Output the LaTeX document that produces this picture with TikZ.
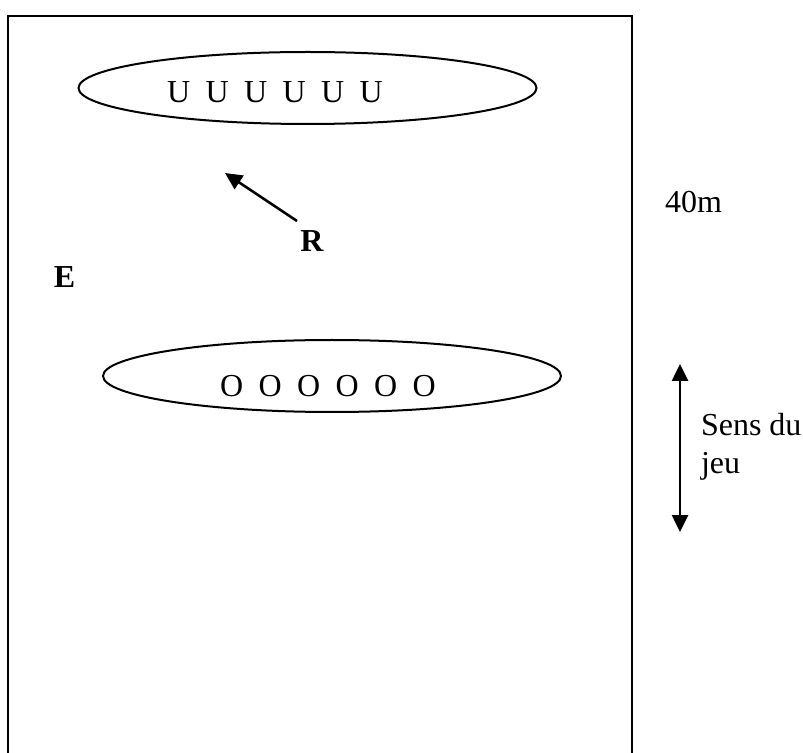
\documentclass[tikz,border=0pt]{standalone}
\usepackage{fontspec}
\setmainfont{Liberation Serif}
\usetikzlibrary{arrows.meta,shapes.geometric}

\newcommand{\pgap}{\hspace{7.7pt}}

\begin{document}
\begin{tikzpicture}[x=0.5pt,y=-0.5pt,line width=1pt,
		>={Triangle[length=8.5pt,width=8pt]},
		every node/.style={inner sep=0pt,font=\fontsize{16}{19.2}\selectfont},
		line/.style={draw,ellipse,minimum width=229pt,minimum height=36pt},
		mark label/.style={font=\fontsize{16}{19.2}\selectfont\bfseries},
		move/.style={line width=1.3pt}]
	\useasboundingbox (0,0) rectangle (803,753);
	% terrain, open at the bottom
	\draw (8,760) -- (8,16) -- (632,16) -- (632,760);
	\node[line] (lineU) at (307.5,88) {};
	\node[anchor=base] (playersU) at (275,103) {U\pgap U\pgap U\pgap U\pgap U\pgap U};
	\node[line] (lineO) at (332,376) {};
	\node[anchor=base] (playersO) at (328,397) {O\pgap O\pgap O\pgap O\pgap O\pgap O};
	\node[mark label,anchor=base] (E) at (64.5,288) {E};
	\node[mark label,anchor=base] (R) at (312,252) {R};
	\coordinate (runStart) at (297,221);
	\coordinate (runEnd) at (225,173);
	\draw[move,->] (runStart) -- (runEnd);
	\node[anchor=base west] (length) at (664,213) {40m};
	\coordinate (dirTop) at (680,364);
	\coordinate (dirBottom) at (680,532);
	\draw[move,<->] (dirTop) -- (dirBottom);
	\node[anchor=north west,align=left] (sens) at (700,412) {Sens du\\jeu};
\end{tikzpicture}
\end{document}
